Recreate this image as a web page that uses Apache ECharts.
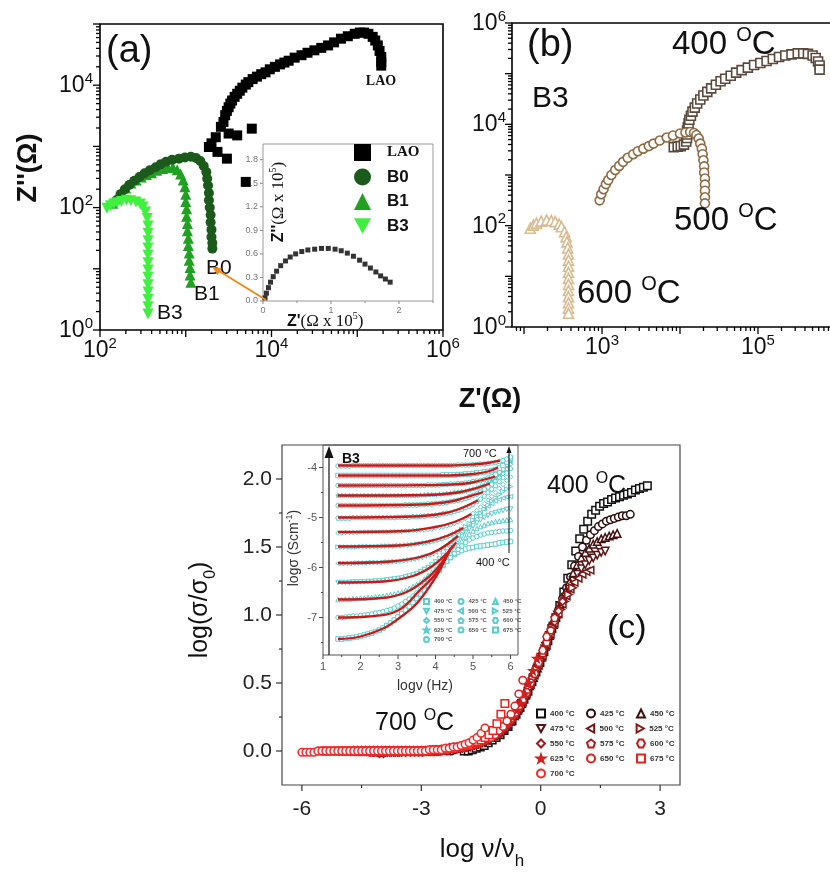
<!DOCTYPE html>
<html>
<head>
<meta charset="utf-8">
<script src="https://cdn.jsdelivr.net/npm/echarts@6/dist/echarts.min.js"></script>
<style>
  html, body { margin: 0; padding: 0; background: #fff; }
  #chart { width: 830px; height: 879px; }
</style>
</head>
<body>
<div id="chart"></div>
<script>
const SANS = 'Liberation Sans';
const SERIF = 'Liberation Serif';

// ---------- (a) Nyquist plots, log10 Z' / log10 Z'' (ohm) ----------
const LAO_A = [[3.27,2.99],[3.37,2.91],[3.35,3.15],[3.41,3.32],[3.50,3.21],[3.48,2.80],[3.60,3.18],[3.77,3.29],[3.70,2.42],[3.30,3.05],[3.44,3.40],
  [3.46,3.51],[3.48,3.58],[3.50,3.64],[3.52,3.70],[3.54,3.75],[3.57,3.81],[3.60,3.86],[3.63,3.91],[3.66,3.96],[3.70,4.01],[3.73,4.05],[3.78,4.10],[3.83,4.14],[3.88,4.18],[3.93,4.21],[3.98,4.26],[4.04,4.30],[4.10,4.34],[4.15,4.37],[4.20,4.40],[4.27,4.45],[4.35,4.49],[4.42,4.53],[4.50,4.57],[4.58,4.61],[4.66,4.65],[4.73,4.70],[4.81,4.76],[4.89,4.80],[4.97,4.84],[5.03,4.86],[5.08,4.86],[5.13,4.84],[5.18,4.79],[5.21,4.73],[5.24,4.65],[5.26,4.56],[5.28,4.46],[5.28,4.38],[5.28,4.32]];
const B0_A = [[2.19,2.12],[2.24,2.22],[2.29,2.30],[2.34,2.37],[2.40,2.44],[2.46,2.50],[2.52,2.56],[2.58,2.61],[2.65,2.66],[2.71,2.71],[2.77,2.75],[2.84,2.78],[2.92,2.80],[2.99,2.82],[3.06,2.83],[3.12,2.81],[3.17,2.76],[3.21,2.68],[3.24,2.58],[3.25,2.47],[3.26,2.36],[3.27,2.24],[3.27,2.12],[3.28,2.00],[3.29,1.88],[3.29,1.76],[3.30,1.64],[3.30,1.52],[3.31,1.42],[3.31,1.33]];
const B1_A = [[2.15,2.07],[2.20,2.17],[2.25,2.25],[2.30,2.32],[2.36,2.40],[2.42,2.45],[2.48,2.50],[2.54,2.54],[2.60,2.57],[2.66,2.61],[2.73,2.64],[2.79,2.66],[2.85,2.66],[2.90,2.62],[2.94,2.55],[2.97,2.45],[2.99,2.34],[3.00,2.22],[3.00,2.10],[3.01,1.98],[3.01,1.86],[3.02,1.74],[3.02,1.62],[3.03,1.50],[3.03,1.38],[3.04,1.26],[3.04,1.14],[3.05,1.02],[3.05,0.90],[3.06,0.78]];
const B3_A = [[2.08,1.99],[2.12,2.03],[2.16,2.06],[2.20,2.08],[2.25,2.10],[2.31,2.12],[2.36,2.11],[2.42,2.09],[2.47,2.06],[2.50,2.01],[2.53,1.93],[2.55,1.82],[2.56,1.70],[2.56,1.58],[2.56,1.46],[2.56,1.34],[2.56,1.22],[2.56,1.10],[2.56,0.98],[2.56,0.86],[2.56,0.74],[2.56,0.62],[2.56,0.50],[2.56,0.38],[2.56,0.26]];
// LAO on linear axes, in units of 1e5 ohm
const LAO_LIN = [[0.03,0.04],[0.05,0.10],[0.08,0.17],[0.11,0.24],[0.15,0.31],[0.20,0.38],[0.26,0.45],[0.33,0.51],[0.40,0.56],[0.48,0.60],[0.57,0.63],[0.66,0.65],[0.76,0.66],[0.86,0.67],[0.96,0.67],[1.06,0.66],[1.15,0.64],[1.24,0.61],[1.33,0.57],[1.42,0.52],[1.50,0.47],[1.58,0.42],[1.66,0.37],[1.73,0.32],[1.80,0.28],[1.87,0.24]];

// ---------- (b) B3 at three temperatures, log10 values ----------
const B3_400C = [[3.92,3.55],[3.97,3.56],[4.01,3.57],[4.05,3.60],[4.08,3.66],[4.09,3.73],[4.09,3.80],[4.09,3.87],[4.10,3.94],[4.11,4.02],[4.12,4.09],[4.14,4.17],[4.16,4.25],[4.19,4.33],[4.22,4.41],[4.26,4.49],[4.30,4.57],[4.35,4.64],[4.40,4.71],[4.46,4.78],[4.52,4.85],[4.58,4.90],[4.65,4.96],[4.72,5.02],[4.79,5.07],[4.87,5.12],[4.95,5.17],[5.03,5.21],[5.11,5.25],[5.19,5.29],[5.27,5.33],[5.35,5.36],[5.43,5.38],[5.51,5.40],[5.58,5.40],[5.64,5.39],[5.70,5.36],[5.74,5.31],[5.77,5.24],[5.79,5.16],[5.79,5.08]];
const B3_500C = [[2.97,2.50],[2.99,2.62],[3.02,2.72],[3.05,2.82],[3.08,2.90],[3.12,3.00],[3.17,3.10],[3.22,3.18],[3.27,3.26],[3.33,3.34],[3.40,3.41],[3.46,3.47],[3.53,3.52],[3.60,3.57],[3.66,3.62],[3.74,3.68],[3.83,3.74],[3.91,3.78],[4.00,3.82],[4.07,3.84],[4.13,3.85],[4.18,3.83],[4.21,3.79],[4.24,3.72],[4.26,3.62],[4.28,3.52],[4.29,3.41],[4.30,3.29],[4.31,3.17],[4.31,3.05],[4.32,2.93],[4.32,2.81],[4.32,2.69],[4.32,2.56],[4.32,2.44]];
const B3_600C = [[2.08,1.95],[2.12,2.01],[2.16,2.05],[2.22,2.09],[2.29,2.11],[2.35,2.10],[2.40,2.08],[2.45,2.03],[2.48,1.98],[2.52,1.88],[2.54,1.78],[2.55,1.68],[2.56,1.56],[2.57,1.44],[2.57,1.32],[2.57,1.20],[2.57,1.08],[2.57,0.96],[2.57,0.84],[2.57,0.72],[2.57,0.60],[2.57,0.48],[2.57,0.37],[2.57,0.27]];

// ---------- (c) conductivity scaling ----------
const TEMPS = ['400 °C','425 °C','450 °C','475 °C','500 °C','525 °C','550 °C','575 °C','600 °C','625 °C','650 °C','675 °C','700 °C'];
const LOG_NU = [1.4,1.5,1.6,1.7,1.8,1.9,2.0,2.1,2.2,2.3,2.4,2.5,2.6,2.7,2.8,2.9,3.0,3.1,3.2,3.3,3.4,3.5,3.6,3.7,3.8,3.9,4.0,4.1,4.2,4.3,4.4,4.5,4.6,4.7,4.8,4.9,5.0,5.1,5.2,5.3,5.4,5.5,5.6,5.7,5.8,5.9,6.0];
const LOG_NU_H = [3.32,3.75,4.08,4.38,4.76,5.20,5.45,5.65,5.85,6.10,6.45,6.90,7.40];
const LOG_SIGMA_0 = [-7.43,-7.00,-6.64,-6.30,-5.91,-5.58,-5.29,-5.00,-4.76,-4.56,-4.36,-4.16,-3.96];
// log(sigma/sigma0) on the LOG_NU grid, one row per temperature
const R400 = [0.00,0.00,0.01,0.02,0.03,0.04,0.06,0.08,0.10,0.12,0.15,0.18,0.22,0.27,0.32,0.38,0.44,0.51,0.58,0.65,0.73,0.81,0.90,0.98,1.07,1.17,1.27,1.37,1.47,1.56,1.63,1.69,1.74,1.77,1.80,1.82,1.83,1.85,1.86,1.87,1.88,1.89,1.90,1.92,1.93,1.94,1.95];
const R425 = [0.00,0.00,0.01,0.02,0.03,0.03,0.04,0.05,0.06,0.07,0.09,0.10,0.12,0.14,0.16,0.19,0.23,0.27,0.32,0.37,0.43,0.49,0.56,0.63,0.71,0.79,0.87,0.95,1.04,1.12,1.20,1.28,1.36,1.43,1.50,1.55,1.59,1.62,1.65,1.67,1.69,1.70,1.71,1.72,1.73,1.73,1.74];
const R450 = [0.00,0.00,0.01,0.01,0.02,0.02,0.03,0.03,0.04,0.04,0.05,0.06,0.07,0.08,0.10,0.11,0.13,0.15,0.18,0.22,0.26,0.30,0.35,0.41,0.48,0.54,0.61,0.69,0.77,0.85,0.93,1.01,1.09,1.17,1.24,1.31,1.37,1.42,1.46,1.49,1.52,1.54,1.56,1.57,1.58,1.59,1.60];
const R475 = [0.00,0.00,0.00,0.00,0.01,0.01,0.01,0.01,0.02,0.02,0.03,0.03,0.04,0.05,0.06,0.07,0.08,0.09,0.11,0.13,0.15,0.18,0.22,0.26,0.30,0.35,0.41,0.47,0.54,0.61,0.69,0.77,0.85,0.92,1.00,1.07,1.13,1.19,1.25,1.30,1.34,1.37,1.40,1.42,1.44,1.46,1.47];
const R500 = [-0.01,-0.01,-0.01,-0.01,0.00,0.00,0.00,0.00,0.01,0.01,0.01,0.01,0.02,0.02,0.03,0.03,0.04,0.05,0.06,0.07,0.08,0.10,0.12,0.14,0.16,0.19,0.22,0.26,0.31,0.36,0.42,0.49,0.56,0.63,0.70,0.78,0.86,0.94,1.01,1.08,1.14,1.19,1.24,1.27,1.30,1.32,1.33];
const R525 = [-0.01,-0.01,-0.01,-0.01,-0.01,-0.01,0.00,0.00,0.00,0.00,0.00,0.00,0.01,0.01,0.01,0.01,0.02,0.02,0.03,0.03,0.04,0.05,0.06,0.07,0.08,0.09,0.11,0.13,0.15,0.18,0.21,0.25,0.29,0.34,0.40,0.46,0.53,0.60,0.67,0.75,0.83,0.91,0.98,1.04,1.10,1.15,1.20];
const R550 = [-0.02,-0.02,-0.01,-0.01,-0.01,-0.01,0.00,0.00,0.00,0.00,0.00,0.00,0.00,0.00,0.01,0.01,0.01,0.01,0.02,0.02,0.03,0.03,0.04,0.04,0.05,0.06,0.08,0.09,0.10,0.12,0.14,0.17,0.20,0.23,0.27,0.32,0.37,0.43,0.50,0.57,0.64,0.71,0.79,0.87,0.95,1.03,1.10];
const R575 = [-0.01,-0.01,-0.01,-0.01,0.00,0.00,0.00,0.00,0.00,0.00,0.00,0.00,0.00,0.00,0.00,0.00,0.01,0.01,0.01,0.01,0.02,0.02,0.03,0.03,0.04,0.04,0.05,0.06,0.08,0.09,0.10,0.12,0.14,0.17,0.20,0.23,0.27,0.32,0.37,0.43,0.50,0.57,0.64,0.72,0.80,0.89,0.98];
const R600 = [0.00,0.00,0.00,0.00,0.00,0.00,0.00,0.00,0.00,0.00,0.00,0.00,0.00,0.00,0.00,0.00,0.00,0.00,0.01,0.01,0.01,0.01,0.02,0.02,0.03,0.03,0.04,0.04,0.05,0.06,0.08,0.09,0.10,0.12,0.14,0.17,0.20,0.23,0.27,0.32,0.37,0.43,0.50,0.57,0.65,0.74,0.84];
const R625 = [0.00,0.00,0.00,0.00,0.00,0.00,0.00,0.00,0.00,0.00,0.00,0.00,0.00,0.00,0.00,0.00,0.00,0.00,0.00,0.00,0.00,0.00,0.01,0.01,0.02,0.02,0.02,0.03,0.03,0.04,0.05,0.06,0.07,0.08,0.09,0.11,0.13,0.15,0.18,0.21,0.25,0.30,0.35,0.42,0.50,0.59,0.68];
const R650 = [0.00,0.00,0.00,0.00,0.00,0.00,0.00,0.00,0.00,0.00,0.00,0.00,0.00,0.00,0.00,0.00,0.00,0.00,0.00,0.00,0.00,0.00,0.00,0.00,0.01,0.01,0.01,0.01,0.02,0.02,0.03,0.03,0.04,0.04,0.05,0.06,0.08,0.09,0.10,0.12,0.15,0.18,0.22,0.27,0.33,0.42,0.52];
const R675 = [0.00,0.00,0.00,0.00,0.00,0.00,0.00,0.00,0.00,0.00,0.00,0.00,0.00,0.00,0.00,0.00,0.00,0.00,0.00,0.00,0.00,0.00,0.00,0.00,0.00,0.00,0.00,0.00,0.01,0.01,0.01,0.01,0.02,0.02,0.03,0.03,0.04,0.05,0.06,0.07,0.08,0.10,0.12,0.15,0.20,0.27,0.35];
const R700 = [-0.01,-0.01,-0.01,-0.01,0.00,0.00,0.00,0.00,0.00,0.00,0.00,0.00,0.00,0.00,0.00,0.00,0.00,0.00,0.00,0.00,0.00,0.00,0.00,0.00,0.00,0.00,0.00,0.00,0.00,0.00,0.00,0.00,0.01,0.01,0.01,0.01,0.02,0.02,0.03,0.03,0.04,0.05,0.06,0.08,0.10,0.13,0.17];
const REL = [R400,R425,R450,R475,R500,R525,R550,R575,R600,R625,R650,R675,R700];
// Jonscher power-law fits (log nu, log sigma)
const FIT400 = [[1.4,-7.43],[2.0,-7.38],[2.6,-7.22],[3.0,-7.03],[3.5,-6.72],[4.0,-6.20],[4.35,-5.70]];
const FIT425 = [[1.4,-7.00],[2.2,-6.98],[3.0,-6.86],[3.6,-6.44],[4.0,-6.13],[4.4,-5.62]];
const FIT450 = [[1.4,-6.64],[2.4,-6.62],[3.2,-6.50],[3.8,-6.20],[4.2,-5.87],[4.45,-5.57]];
const FIT475 = [[1.4,-6.30],[2.6,-6.28],[3.4,-6.17],[3.9,-5.98],[4.3,-5.72],[4.55,-5.50]];
const FIT500 = [[1.4,-5.91],[2.8,-5.88],[3.6,-5.79],[4.1,-5.64],[4.6,-5.37]];
const FIT525 = [[1.4,-5.58],[3.0,-5.56],[3.8,-5.48],[4.3,-5.37],[4.74,-5.21]];
const FIT550 = [[1.4,-5.29],[3.2,-5.27],[4.0,-5.19],[4.5,-5.09],[4.96,-4.93]];
const FIT575 = [[1.4,-5.00],[3.4,-4.98],[4.2,-4.92],[4.6,-4.84],[5.13,-4.66]];
const FIT600 = [[1.4,-4.76],[3.6,-4.74],[4.4,-4.68],[4.8,-4.60],[5.27,-4.49]];
const FIT625 = [[1.4,-4.56],[3.8,-4.55],[4.6,-4.50],[5.0,-4.43],[5.45,-4.32]];
const FIT650 = [[1.4,-4.36],[4.0,-4.35],[4.8,-4.32],[5.2,-4.26],[5.59,-4.18]];
const FIT675 = [[1.4,-4.16],[4.2,-4.16],[5.0,-4.13],[5.4,-4.08],[5.67,-4.00]];
const FIT700 = [[1.4,-3.96],[4.4,-3.96],[5.0,-3.94],[5.4,-3.91],[5.72,-3.86]];
const FITS = [FIT400,FIT425,FIT450,FIT475,FIT500,FIT525,FIT550,FIT575,FIT600,FIT625,FIT650,FIT675,FIT700];

// ---------- tick labels ----------
const A_X_LABELS = [2, 4, 6];
const A_Y_LABELS = [0, 2, 4];
const B_X_LABELS = [3, 5];
const B_Y_LABELS = [0, 2, 4, 6];
const AI_X_LABELS = [0, 1, 2];
const AI_Y_LABELS = [0, 0.3, 0.6, 0.9, 1.2, 1.5, 1.8];
const C_X_LABELS = [-6, -3, 0, 3];
const C_Y_LABELS = [0, 0.5, 1, 1.5, 2];
const CI_X_LABELS = [1, 2, 3, 4, 5, 6];
const CI_Y_LABELS = [-7, -6, -5, -4];

// ---------- styling ----------
const C_COLORS = ['#121212','#2a0d0d','#431010','#5c1313','#741616','#8a1818','#9e1a1a','#b21c1c','#c41d1d','#d41e1e','#e21f1f','#ee2020','#f82828'];
const CYAN = '#5ccccc';
const P_DOWN = 'path://M0,0L10,0L5,9Z';
const P_LEFT = 'path://M9,0L9,10L0,5Z';
const P_RIGHT = 'path://M0,0L0,10L9,5Z';
const P_PENT = 'path://M5,0L10,3.8L8.1,10L1.9,10L0,3.8Z';
const P_HEX = 'path://M2.5,0L7.5,0L10,5L7.5,10L2.5,10L0,5Z';
const P_STAR = 'path://M5,0L6.2,3.6L10,3.6L6.9,5.9L8.1,9.5L5,7.3L1.9,9.5L3.1,5.9L0,3.6L3.8,3.6Z';
const C_SYMBOLS = ['rect','circle','triangle',P_DOWN,P_LEFT,P_RIGHT,'diamond',P_PENT,P_HEX,P_STAR,'circle','rect','circle'];

const near = (list, v) => list.some(l => Math.abs(l - v) < 1e-6);
const powAxisLabel = (list, margin) => ({
  margin,
  formatter: v => near(list, v) ? '{b|10}{s|' + Math.round(v) + '}' : '',
  rich: {
    b: { fontFamily: SANS, fontSize: 23, color: '#111', verticalAlign: 'bottom', lineHeight: 24 },
    s: { fontFamily: SANS, fontSize: 15, color: '#111', verticalAlign: 'bottom', lineHeight: 15, padding: [0, 0, 11, 0] }
  }
});
const plainAxisLabel = (list, fmt, size, color, margin) => ({
  margin, fontFamily: SANS, fontSize: size, color,
  formatter: v => near(list, v) ? fmt(v) : ''
});

function valueAxis(grid, min, max, interval, label) {
  const ax = { type: 'value', gridIndex: grid, min, max, axisLine: { show: false },
    axisTick: { show: false }, splitLine: { show: false }, axisLabel: label };
  if (interval != null) ax.interval = interval;
  return ax;
}

// log-decade tick marks (major at decades, minor at 2..9)
function logTicks(lo, hi, major, minor) {
  const out = [];
  for (let n = Math.floor(lo); n <= hi; n++) {
    if (n >= lo) out.push([n, major]);
    for (let k = 2; k <= 9; k++) {
      const v = n + Math.log10(k);
      if (v > lo && v < hi) out.push([v, minor]);
    }
  }
  return out;
}
function tickSeries(idx, xTicks, yTicks, xMin, yMin, color, width) {
  const data = xTicks.map(([v, L]) => [v, yMin, 0, L]).concat(yTicks.map(([v, L]) => [xMin, v, 1, L]));
  return {
    type: 'custom', xAxisIndex: idx, yAxisIndex: idx, silent: true, clip: false, z: 6,
    encode: { x: 0, y: 1 }, data,
    renderItem: (params, api) => {
      const p = api.coord([api.value(0), api.value(1)]);
      const L = api.value(3);
      const shape = api.value(2) === 0
        ? { x1: p[0], y1: p[1], x2: p[0], y2: p[1] + L }
        : { x1: p[0], y1: p[1], x2: p[0] - L, y2: p[1] };
      return { type: 'line', shape, style: { stroke: color, lineWidth: width } };
    }
  };
}

const grids = [
  { left: 100, top: 24, width: 343, height: 306 },
  { left: 263, top: 144, width: 170, height: 157 },
  { left: 512, top: 23, width: 324, height: 304 },
  { left: 282, top: 445, width: 398, height: 340 },
  { left: 323, top: 445, width: 195, height: 210 }
].map((g, i) => Object.assign(g, {
  show: true, outerBoundsMode: 'none', containLabel: false, backgroundColor: 'transparent',
  borderColor: ['#000', '#999', '#000', '#444', '#555'][i],
  borderWidth: [1.6, 1, 1.6, 1.2, 1][i]
}));

const xAxes = [
  valueAxis(0, 2, 6, 1, powAxisLabel(A_X_LABELS, 8)),
  valueAxis(1, 0, 2.5, 0.5, plainAxisLabel(AI_X_LABELS, v => String(v), 9, '#777', 5)),
  valueAxis(2, 1.846, 6, null, powAxisLabel(B_X_LABELS, 8)),
  valueAxis(3, -6.5, 3.5, 0.5, plainAxisLabel(C_X_LABELS, v => String(v), 21, '#222', 14)),
  valueAxis(4, 1, 6.2, 0.5, plainAxisLabel(CI_X_LABELS, v => String(v), 11, '#555', 6))
];
const yAxes = [
  valueAxis(0, 0, 5, 1, powAxisLabel(A_Y_LABELS, 7)),
  valueAxis(1, 0, 2.0, 0.3, plainAxisLabel(AI_Y_LABELS, v => v.toFixed(1), 9, '#777', 5)),
  valueAxis(2, 0, 6, 1, powAxisLabel(B_Y_LABELS, 6)),
  valueAxis(3, -0.25, 2.25, 0.25, plainAxisLabel(C_Y_LABELS, v => v.toFixed(1), 21, '#222', 10)),
  valueAxis(4, -7.75, -3.55, 0.25, plainAxisLabel(CI_Y_LABELS, v => String(v), 11, '#555', 6))
];

const series = [];
// tick marks
series.push(tickSeries(0, logTicks(2, 6, 7, 4), logTicks(0, 5, 7, 4), 2, 0, '#000', 1.3));
series.push(tickSeries(1, [[0,3],[0.5,2],[1,3],[1.5,2],[2,3],[2.5,2]],
  [[0,3],[0.3,3],[0.6,3],[0.9,3],[1.2,3],[1.5,3],[1.8,3]], 0, 0, '#888', 1));
series.push(tickSeries(2, logTicks(1.846, 6, 7, 4), logTicks(0, 6, 7, 4), 1.846, 0, '#000', 1.3));
series.push(tickSeries(3, [[-6,6],[-4.5,3],[-3,6],[-1.5,3],[0,6],[1.5,3],[3,6]],
  [[0,6],[0.25,3],[0.5,6],[0.75,3],[1,6],[1.25,3],[1.5,6],[1.75,3],[2,6]], -6.5, -0.25, '#333', 1.2));
series.push(tickSeries(4, [[1,4],[1.5,2],[2,4],[2.5,2],[3,4],[3.5,2],[4,4],[4.5,2],[5,4],[5.5,2],[6,4]],
  [[-7.5,2],[-7,4],[-6.5,2],[-6,4],[-5.5,2],[-5,4],[-4.5,2],[-4,4]], 1, -7.75, '#444', 1));

// (a)
const filled = (name, data, symbol, size, color) => ({
  type: 'scatter', name, xAxisIndex: 0, yAxisIndex: 0, data, symbol, symbolSize: size,
  itemStyle: { color, opacity: 1 }, z: 3
});
series.push(filled('LAO', LAO_A, 'rect', 10, '#000'));
series.push(filled('B1', B1_A, 'triangle', 11, '#21a121'));
series.push(filled('B0', B0_A, 'circle', 10, '#1c5a1c'));
series.push(filled('B3', B3_A, P_DOWN, 11, '#3ff03f'));
series.push({ type: 'scatter', name: 'LAO-linear', xAxisIndex: 1, yAxisIndex: 1, data: LAO_LIN,
  symbol: 'rect', symbolSize: 5, itemStyle: { color: '#000' }, z: 3 });

// (b)
const hollow = (name, idx, data, symbol, size, color, bw) => ({
  type: 'scatter', name, xAxisIndex: idx, yAxisIndex: idx, data, symbol, symbolSize: size,
  itemStyle: { color: '#fff', borderColor: color, borderWidth: bw, opacity: 1 }, z: 3
});
series.push(hollow('400', 2, B3_400C, 'rect', 9, '#5a4a3c', 1.6));
series.push(hollow('500', 2, B3_500C, 'circle', 9, '#8d6b45', 1.6));
series.push(hollow('600', 2, B3_600C, 'triangle', 10, '#d9bb91', 1.6));

// (c) master curve and inset
TEMPS.forEach((name, t) => {
  const main = LOG_NU.map((nu, i) => [nu - LOG_NU_H[t], REL[t][i]]);
  const s = hollow(name, 3, main, C_SYMBOLS[t], 7.5, C_COLORS[t], 1.5);
  if (t === 9) s.itemStyle.color = C_COLORS[t];
  series.push(s);
});
TEMPS.forEach((name, t) => {
  const raw = LOG_NU.map((nu, i) => [nu, LOG_SIGMA_0[t] + REL[t][i]]);
  const s = hollow('B3 ' + name, 4, raw, C_SYMBOLS[t], 4.5, CYAN, 1);
  if (t === 9) s.itemStyle.color = CYAN;
  series.push(s);
});
FITS.forEach((fit, t) => {
  series.push({ type: 'line', name: 'fit ' + TEMPS[t], xAxisIndex: 4, yAxisIndex: 4, data: fit,
    smooth: 0.4, symbol: 'none', lineStyle: { color: '#cc1818', width: 2.3 }, z: 4, silent: true });
});

// ---------- text and arrows ----------
const txt = (x, y, text, font, extra) => ({
  type: 'text', x, y, z: 60, silent: true,
  style: Object.assign({ text, font, fill: '#111', align: 'left', verticalAlign: 'middle' }, extra || {})
});
const degRich = size => ({
  t: { fontFamily: SANS, fontSize: size, verticalAlign: 'bottom', lineHeight: size },
  u: { fontFamily: SANS, fontSize: Math.round(size * 0.62), verticalAlign: 'bottom', lineHeight: Math.round(size * 0.62), padding: [0, 0, Math.round(size * 0.48), 0] }
});
const degText = (x, y, temp, size) => ({
  type: 'text', x, y, z: 60, silent: true,
  style: { text: '{t|' + temp + ' }{u|O}{t|C}', rich: degRich(size), fill: '#111', align: 'left', verticalAlign: 'middle' }
});
const arrowHead = (tip, from, len, half, color) => {
  const dx = tip[0] - from[0], dy = tip[1] - from[1];
  const d = Math.hypot(dx, dy), ux = dx / d, uy = dy / d;
  const bx = tip[0] - ux * len, by = tip[1] - uy * len;
  return { type: 'polygon', z: 61, silent: true,
    shape: { points: [tip, [bx - uy * half, by + ux * half], [bx + uy * half, by - ux * half]] },
    style: { fill: color } };
};
const insetTitleRich = {
  z: { fontFamily: SANS, fontWeight: 'bold', fontSize: 16, verticalAlign: 'bottom', lineHeight: 18 },
  t: { fontFamily: SERIF, fontSize: 17, verticalAlign: 'bottom', lineHeight: 18 },
  u: { fontFamily: SERIF, fontSize: 10, verticalAlign: 'bottom', lineHeight: 10, padding: [0, 0, 9, 0] }
};

const graphic = [
  // (a)
  txt(106, 52, '(a)', '38px ' + SANS),
  txt(381, 81, 'LAO', 'bold 14px ' + SERIF, { align: 'center' }),
  txt(206, 268, 'B0', '21px ' + SANS),
  txt(194, 294, 'B1', '21px ' + SANS),
  txt(157, 313, 'B3', '21px ' + SANS),
  { type: 'line', z: 60, silent: true, shape: { x1: 266, y1: 300, x2: 219, y2: 271 }, style: { stroke: '#f08a1c', lineWidth: 2 } },
  arrowHead([212, 267], [266, 300], 9, 4, '#f08a1c'),
  { type: 'text', x: 278, y: 202, rotation: Math.PI / 2, z: 60, silent: true,
    style: { text: "{z|Z''}{t|(Ω x 10}{u|5}{t|)}", align: 'center', verticalAlign: 'middle', fill: '#111', rich: insetTitleRich } },
  { type: 'text', x: 287, y: 321, z: 60, silent: true,
    style: { text: "{z|Z'}{t|(Ω x 10}{u|5}{t|)}", align: 'left', verticalAlign: 'middle', fill: '#111', rich: insetTitleRich } },
  { type: 'text', x: 29, y: 168, rotation: Math.PI / 2, z: 60, silent: true,
    style: { text: "Z''(Ω)", font: 'bold 27px ' + SANS, align: 'center', verticalAlign: 'middle', fill: '#111' } },
  { type: 'text', x: 490, y: 400, z: 60, silent: true,
    style: { text: "Z'(Ω)", font: 'bold 27px ' + SANS, align: 'center', verticalAlign: 'middle', fill: '#111' } },
  // (b)
  txt(527, 46, '(b)', '38px ' + SANS),
  txt(532, 99, 'B3', '30px ' + SANS),
  degText(672, 45, '400', 33),
  degText(674, 221, '500', 33),
  degText(577, 294, '600', 33),
  // (c)
  degText(547, 486, '400', 25),
  degText(375, 723, '700', 25),
  txt(607, 629, '(c)', '34px ' + SANS),
  { type: 'text', x: 206, y: 610, rotation: Math.PI / 2, z: 60, silent: true,
    style: { text: '{t|log(σ/σ}{d|0}{t|)}', align: 'center', verticalAlign: 'middle', fill: '#111',
      rich: { t: { fontFamily: SANS, fontSize: 25, verticalAlign: 'bottom', lineHeight: 25, padding: [0, 0, 6, 0] },
              d: { fontFamily: SANS, fontSize: 16, verticalAlign: 'bottom', lineHeight: 16 } } } },
  { type: 'text', x: 482, y: 857, z: 60, silent: true,
    style: { text: '{t|log ν/ν}{d|h}', align: 'center', verticalAlign: 'middle', fill: '#111',
      rich: { t: { fontFamily: SANS, fontSize: 26, verticalAlign: 'bottom', lineHeight: 26, padding: [0, 0, 7, 0] },
              d: { fontFamily: SANS, fontSize: 17, verticalAlign: 'bottom', lineHeight: 17 } } } },
  // (c) inset
  txt(342, 459, 'B3', 'bold 14px ' + SANS),
  txt(463, 454, '700 °C', '11px ' + SANS),
  txt(476, 563, '400 °C', '11px ' + SANS),
  { type: 'line', z: 60, silent: true, shape: { x1: 509, y1: 553, x2: 509, y2: 452 }, style: { stroke: '#111', lineWidth: 1 } },
  arrowHead([509, 446], [509, 553], 7, 2.5, '#111'),
  { type: 'line', z: 60, silent: true, shape: { x1: 329, y1: 655, x2: 329, y2: 458 }, style: { stroke: '#111', lineWidth: 1.2 } },
  arrowHead([329, 446], [329, 655], 12, 4.5, '#111'),
  { type: 'text', x: 294, y: 548, rotation: Math.PI / 2, z: 60, silent: true,
    style: { text: '{t|logσ (Scm}{u|-1}{t|)}', align: 'center', verticalAlign: 'middle', fill: '#333',
      rich: { t: { fontFamily: SANS, fontSize: 14, verticalAlign: 'bottom', lineHeight: 14 },
              u: { fontFamily: SANS, fontSize: 9, verticalAlign: 'bottom', lineHeight: 9, padding: [0, 0, 7, 0] } } } },
  txt(425, 686, 'logν (Hz)', '14px ' + SANS, { align: 'center', fill: '#333' })
];

const legends = [
  { // (a) inset legend
    left: 349, top: 139, orient: 'vertical', itemWidth: 17, itemHeight: 17, itemGap: 7.5, selectedMode: false,
    data: [{ name: 'LAO', icon: 'rect' }, { name: 'B0', icon: 'circle' }, { name: 'B1', icon: 'triangle' }, { name: 'B3', icon: P_DOWN }],
    formatter: n => n === 'LAO' ? '{s|LAO}' : '{b|' + n + '}',
    textStyle: { rich: {
      s: { fontFamily: SERIF, fontWeight: 'bold', fontSize: 15, color: '#111', padding: [0, 0, 0, 11] },
      b: { fontFamily: SANS, fontWeight: 'bold', fontSize: 17, color: '#111', padding: [0, 0, 0, 11] } } }
  },
  { // (c) main legend
    left: 531, top: 703, width: 150, itemWidth: 8, itemHeight: 8, itemGap: 4, selectedMode: false,
    data: TEMPS.map((n, t) => ({ name: n, icon: C_SYMBOLS[t] })),
    textStyle: { fontFamily: SANS, fontWeight: 'bold', fontSize: 8, color: '#333', width: 32, lineHeight: 11 }
  },
  { // (c) inset legend
    left: 418, top: 593, width: 102, itemWidth: 5, itemHeight: 5, itemGap: 2.5, selectedMode: false,
    data: TEMPS.map((n, t) => ({ name: 'B3 ' + n, icon: C_SYMBOLS[t] })),
    formatter: n => n.replace('B3 ', ''),
    textStyle: { fontFamily: SANS, fontWeight: 'bold', fontSize: 6, color: '#555', width: 21, lineHeight: 7 }
  }
];

const chart = echarts.init(document.getElementById('chart'), null, { renderer: 'canvas' });
chart.setOption({
  animation: false,
  backgroundColor: '#fff',
  grid: grids,
  xAxis: xAxes,
  yAxis: yAxes,
  legend: legends,
  series,
  graphic
});
</script>
</body>
</html>
